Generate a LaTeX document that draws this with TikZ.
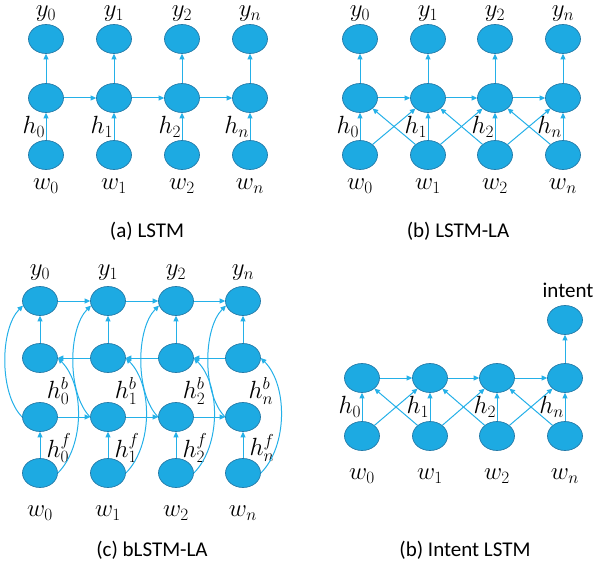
\documentclass[tikz,border=0pt]{standalone}
\usepackage{fontspec}
\newfontfamily\capfont{Carlito}
\usetikzlibrary{shapes.geometric, arrows.meta}
\definecolor{cellfill}{RGB}{29,170,226}
\definecolor{cellline}{RGB}{36,122,168}
\definecolor{linkblue}{RGB}{36,176,232}

\begin{document}
\begin{tikzpicture}[x=1pt, y=-1pt,
  unit/.style={ellipse, draw=cellline, fill=cellfill, line width=0.7pt,
    minimum width=35pt, minimum height=29pt, inner sep=0pt},
  link/.style={draw=linkblue, line width=1pt, -{Triangle[length=5.5pt, width=5pt]}},
  lbl/.style={font=\fontsize{24}{28}\selectfont, inner sep=0.5pt},
  captxt/.style={font=\capfont\fontsize{21}{25}\selectfont}]
\useasboundingbox (0,0) rectangle (595,567);

% (a) LSTM
\foreach \i/\x/\s in {0/46/0, 1/114/1, 2/182/2, 3/250/n} {
  \node[unit] (ay\i) at (\x,39) {};
  \node[unit] (ah\i) at (\x,98) {};
  \node[unit] (aw\i) at (\x,155) {};
  \node[lbl] (ayl\i) at (\x,14) {$y_{\s}$};
  \node[lbl] (awl\i) at (\x,186) {$w_{\s}$};
  \draw[link] (aw\i) -- (ah\i) node[midway, left, lbl] (ahl\i) {$h_{\s}$};
  \draw[link] (ah\i) -- (ay\i);
}
\foreach \i/\j in {0/1, 1/2, 2/3}
  \draw[link] (ah\i) -- (ah\j);
\node[captxt] (acap) at (147,231) {(a) LSTM};

% (b) LSTM-LA
\foreach \i/\x/\s in {0/360/0, 1/428/1, 2/495/2, 3/563/n} {
  \node[unit] (by\i) at (\x,39) {};
  \node[unit] (bh\i) at (\x,98) {};
  \node[unit] (bw\i) at (\x,155) {};
  \node[lbl] (byl\i) at (\x,14) {$y_{\s}$};
  \node[lbl] (bwl\i) at (\x,186) {$w_{\s}$};
  \draw[link] (bw\i) -- (bh\i) node[midway, left, lbl] (bhl\i) {$h_{\s}$};
  \draw[link] (bh\i) -- (by\i);
}
\foreach \i/\j in {0/1, 1/2, 2/3} {
  \draw[link] (bh\i) -- (bh\j);
  \draw[link] (bw\i) -- (bh\j);
  \draw[link] (bw\j) -- (bh\i);
}
\node[captxt] (bcap) at (458,231) {(b) LSTM-LA};

% (c) bLSTM-LA
\foreach \i/\x/\s in {0/40/0, 1/108/1, 2/176/2, 3/243/n} {
  \node[unit] (cy\i) at (\x,301) {};
  \node[unit] (cb\i) at (\x,358) {};
  \node[unit] (cf\i) at (\x,417) {};
  \node[unit] (cw\i) at (\x,473) {};
  \node[lbl] (cyl\i) at (\x,273) {$y_{\s}$};
  \node[lbl] (cwl\i) at (\x,513) {$w_{\s}$};
  \node[lbl] (cbl\i) at (\x+18,391) {$h_{\s}^{b}$};
  \node[lbl] (cfl\i) at (\x+19,448) {$h_{\s}^{f}$};
  \draw[link] (cw\i) -- (cf\i);
  \draw[link] (cb\i) -- (cy\i);
  \draw[link] (cf\i.west) to[out=135, in=225, looseness=0.75] (cy\i.195);
  \draw[link] (cw\i.east) to[out=45, in=-45, looseness=0.85] (cb\i.east);
}
\foreach \i/\j in {0/1, 1/2, 2/3} {
  \draw[link] (cy\i) -- (cy\j);
  \draw[link] (cb\j) -- (cb\i);
  \draw[link] (cf\i) -- (cf\j);
}
\node[captxt] (ccap) at (152,550) {(c) bLSTM-LA};

% (b) Intent LSTM
\foreach \i/\x/\s in {0/362/0, 1/430/1, 2/497/2, 3/565/n} {
  \node[unit] (dh\i) at (\x,378) {};
  \node[unit] (dw\i) at (\x,436) {};
  \node[lbl] (dwl\i) at (\x,476) {$w_{\s}$};
  \draw[link] (dw\i) -- (dh\i) node[midway, left, lbl] (dhl\i) {$h_{\s}$};
}
\foreach \i/\j in {0/1, 1/2, 2/3} {
  \draw[link] (dh\i) -- (dh\j);
  \draw[link] (dw\i) -- (dh\j);
  \draw[link] (dw\j) -- (dh\i);
}
\node[unit] (dint) at (565,320) {};
\node[captxt] (dintl) at (568,290) {intent};
\draw[link] (dh3) -- (dint);
\node[captxt] (dcap) at (465,550) {(b) Intent LSTM};
\end{tikzpicture}
\end{document}
